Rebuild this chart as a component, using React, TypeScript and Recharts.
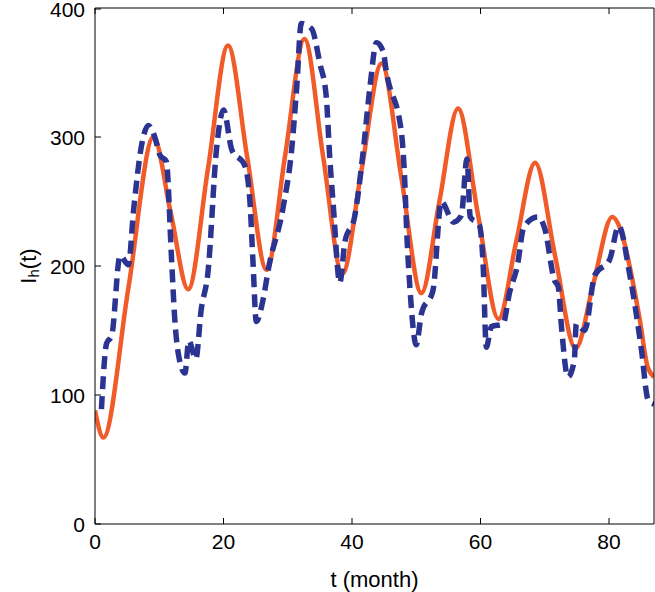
import { LineChart, Line, XAxis, YAxis } from 'recharts'

// model curve I_h(t)
const modelMonths = [0, 1.3, 5.2, 9.1, 11.8, 14.5, 17.6, 20.7, 23.7, 26.7, 29.6, 32.6, 35.5, 38.5, 41.5, 44.6, 47.7, 50.8, 53.6, 56.5, 59.6, 62.8, 65.6, 68.5, 71.6, 74.8, 77.6, 80.5, 82, 83.2, 84.8, 86, 87]
const modelCases = [88, 67, 183, 300, 241, 182, 276, 371, 284, 197, 286, 376, 285, 194, 275, 357, 268, 179, 250, 322, 240, 159, 220, 280, 208, 136, 187, 238, 225, 200, 158, 122, 114]

// reported cases (dashed)
const dataMonths = [1, 1.8, 2.6, 3.9, 5.2, 6, 7.3, 8.3, 9.3, 10.1, 11.1, 11.9, 12.4, 13, 14, 14.6, 15.7, 16.5, 17.6, 18.9, 20, 21.3, 23.3, 24.1, 24.6, 25.1, 26.2, 27, 29.3, 30.6, 31.4, 32.1, 33.7, 35, 36, 36.5, 37.1, 38.1, 38.9, 40.4, 41.7, 42.8, 43.8, 44.8, 45.4, 47.7, 48.2, 48.5, 49, 50, 50.8, 52.6, 53.9, 55.8, 57, 57.9, 58.4, 59.8, 60.4, 60.9, 61.7, 63.5, 64.5, 65.8, 66.6, 67, 68.9, 70, 71.5, 72.1, 72.6, 73.6, 74.6, 74.9, 76.2, 77.8, 80.1, 81.5, 83.2, 85, 86.1, 87]
const dataCases = [89, 140, 146, 208, 201, 243, 295, 309, 300, 286, 281, 207, 160, 131, 117, 142, 128, 165, 196, 290, 321, 290, 278, 251, 202, 157, 175, 198, 246, 290, 339, 388, 384, 357, 331, 287, 246, 187, 219, 238, 287, 339, 373, 367, 349, 303, 267, 228, 184, 139, 163, 181, 250, 234, 239, 283, 238, 232, 202, 137, 153, 155, 179, 202, 228, 232, 238, 229, 189, 184, 153, 114, 127, 155, 150, 193, 205, 231, 194, 137, 96, 93]

const xTicks = [0, 20, 40, 60, 80]
const yTicks = [0, 100, 200, 300, 400]

const model = modelMonths.map((t, i) => ({ t, v: modelCases[i] }))
const reported = dataMonths.map((t, i) => ({ t, v: dataCases[i] }))

const font = '"Liberation Sans", Arial, sans-serif'
const TICK = 6

// matlab style: ticks point into the plot box
function BottomTick({ x, y, payload }: any) {
  return (
    <g>
      <line x1={x} x2={x} y1={y - 9} y2={y - 9 - TICK} stroke="#000" />
      <text x={x} y={y} dy="0.75em" textAnchor="middle" fontSize={21} fontFamily={font} fill="#000">{payload.value}</text>
    </g>
  )
}

function LeftTick({ x, y, payload }: any) {
  return (
    <g>
      <line x1={x + 10} x2={x + 10 + TICK} y1={y} y2={y} stroke="#000" />
      <text x={x} y={y} dy="0.36em" textAnchor="end" fontSize={21} fontFamily={font} fill="#000">{payload.value}</text>
    </g>
  )
}

function TopTick({ x, y }: any) {
  return <line x1={x} x2={x} y1={y} y2={y + TICK} stroke="#000" />
}

function RightTick({ x, y }: any) {
  return <line x1={x} x2={x - TICK} y1={y} y2={y} stroke="#000" />
}

function YLabel(props: any) {
  const { viewBox } = props
  const cy = viewBox.y + viewBox.height / 2
  return (
    <text x={28} y={cy} transform={`rotate(-90, 28, ${cy})`} textAnchor="middle" dominantBaseline="central" fontSize={22} fontFamily={font} fill="#000">
      I<tspan fontSize={15} dy={5}>h</tspan><tspan dy={-5}>(t)</tspan>
    </text>
  )
}

function XLabel(props: any) {
  const { viewBox } = props
  return (
    <text x={viewBox.x + viewBox.width / 2} y={579} textAnchor="middle" dominantBaseline="central" fontSize={22} fontFamily={font} fill="#000">
      t (month)
    </text>
  )
}

export default function App() {
  return (
    <div style={{ position: 'absolute', left: 0, top: 0, width: 655, height: 592, background: '#fff' }}>
      <LineChart width={655} height={592} margin={{ top: 7, right: 0, bottom: 0, left: 0 }}>
        <XAxis
          xAxisId="b"
          dataKey="t"
          type="number"
          domain={[0, 87]}
          ticks={xTicks}
          allowDataOverflow
          height={68}
          tickSize={0}
          tickMargin={9}
          tick={<BottomTick />}
          tickLine={false}
          stroke="#000"
          label={<XLabel />}
        />
        <XAxis
          xAxisId="top"
          orientation="top"
          dataKey="t"
          type="number"
          domain={[0, 87]}
          ticks={xTicks}
          allowDataOverflow
          height={1}
          tickSize={0}
          tickMargin={0}
          tick={<TopTick />}
          tickLine={false}
          stroke="#000"
        />
        <YAxis
          yAxisId="l"
          type="number"
          domain={[0, 400]}
          ticks={yTicks}
          width={95}
          tickSize={0}
          tickMargin={10}
          tick={<LeftTick />}
          tickLine={false}
          stroke="#000"
          label={<YLabel />}
        />
        <YAxis
          yAxisId="r"
          orientation="right"
          type="number"
          domain={[0, 400]}
          ticks={yTicks}
          width={1}
          tickSize={0}
          tickMargin={0}
          tick={<RightTick />}
          tickLine={false}
          stroke="#000"
        />
        <Line
          xAxisId="b"
          yAxisId="l"
          data={model}
          dataKey="v"
          type="monotone"
          stroke="#f15a29"
          strokeWidth={4.5}
          dot={false}
          isAnimationActive={false}
        />
        <Line
          xAxisId="b"
          yAxisId="l"
          data={reported}
          dataKey="v"
          type="monotone"
          stroke="#2b3491"
          strokeWidth={5.5}
          strokeDasharray="13 7"
          dot={false}
          isAnimationActive={false}
        />
      </LineChart>
    </div>
  )
}
